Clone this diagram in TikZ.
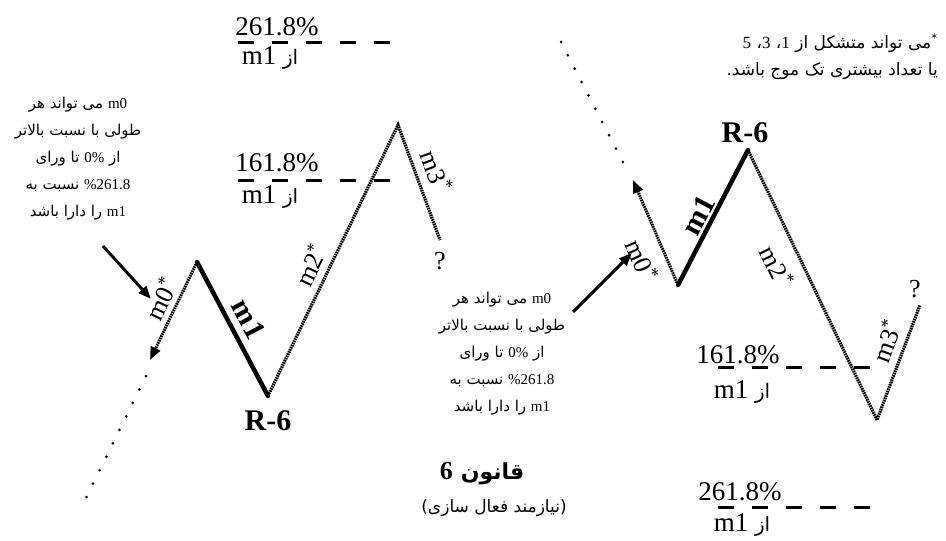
\documentclass[tikz,border=0pt]{standalone}
\usepackage{fontspec}
\setmainfont{Liberation Serif}
\newfontfamily\fa[Script=Arabic]{DejaVu Sans}
\TeXXeTstate=1
\usetikzlibrary{arrows.meta}

\begin{document}
\begin{tikzpicture}[x=1pt, y=-1pt,
  waveline/.style={line width=4.5pt, line cap=round},
  wavedot/.style={line width=3.2pt, dash pattern=on 1.6pt off 0.8pt},
  trail/.style={line width=3pt, line cap=round, dash pattern=on 0pt off 15pt},
  lvldash/.style={line width=3pt, dash pattern=on 16pt off 18pt},
  pointer/.style={-{Triangle[length=13pt,width=10pt]}, line width=3pt},
  lvl/.style={font=\fontsize{27}{30}\selectfont, inner sep=0pt},
  wlabel/.style={font=\fontsize{26}{28}\selectfont, inner sep=0pt},
  blabel/.style={font=\bfseries\fontsize{30}{32}\selectfont, inner sep=0pt},
  note/.style={align=center, font=\fa\fontsize{15}{27}\selectfont, inner sep=0pt}
]
\useasboundingbox (0,0) rectangle (946,541);

% --- Left wave ---
\coordinate (lTrail)    at (85,500);
\coordinate (lTrailTop) at (146,376);
\coordinate (lTip)      at (150,360);
\coordinate (lTop)      at (197,262);
\coordinate (lLow)      at (268,396);
\coordinate (lPeak)     at (398,125);
\coordinate (lEnd)      at (440,240);

\draw[trail] (lTrailTop) -- (lTrail);
\draw[wavedot, pointer] (lTop) -- (lTip);
\draw[waveline] (lTop) -- (lLow);
\draw[wavedot] (lLow) -- (lPeak) -- (lEnd);

\node[wlabel, rotate=64]  (lM0) at (161,299) {m0\textsuperscript{*}};
\node[blabel, rotate=-62] (lM1) at (249,319) {m1};
\node[wlabel, rotate=64]  (lM2) at (310,265) {m2\textsuperscript{*}};
\node[wlabel, rotate=-70] (lM3) at (437,171) {m3\textsuperscript{*}};
\node[wlabel] (lQ) at (440,261) {?};
\node[blabel] (lR6) at (268,421) {R-6};

% --- Left levels ---
\draw[lvldash] (238,42) coordinate (lA1) -- (392,42) coordinate (lA2);
\node[lvl] (lLvlA) at (277,27) {261.8\%};
\node[lvl] (lLvlAm) at (270,58) {\beginR{\fa\fontsize{20}{20}\selectfont از} m1\endR};
\draw[lvldash] (238,180) coordinate (lB1) -- (392,180) coordinate (lB2);
\node[lvl] (lLvlB) at (277,163) {161.8\%};
\node[lvl] (lLvlBm) at (270,197) {\beginR{\fa\fontsize{20}{20}\selectfont از} m1\endR};

% --- Left note ---
\node[note] (noteL) at (78,159) {\beginR{\rmfamily\beginL m0\endL} می تواند هر\endR\\
  \beginR طولی با نسبت بالاتر\endR\\
  \beginR از {\rmfamily\beginL 0\%\endL} تا ورای\endR\\
  \beginR{\rmfamily\beginL \%261.8\endL} نسبت به\endR\\
  \beginR{\rmfamily\beginL m1\endL} را دارا باشد\endR};
\coordinate (noteLTip) at (151,299);
\draw[pointer] (103,246) coordinate (noteLTail) -- (noteLTip);

% --- Right wave ---
\coordinate (rTrail)    at (561,42);
\coordinate (rTrailEnd) at (628,172);
\coordinate (rTip)      at (633,180);
\coordinate (rLow)      at (678,285);
\coordinate (rPeak)     at (748,150);
\coordinate (rBot)      at (877,420);
\coordinate (rEnd)      at (920,305);

\draw[trail] (rTrail) -- (rTrailEnd);
\draw[wavedot, pointer] (rLow) -- (rTip);
\draw[waveline] (rLow) -- (rPeak);
\draw[wavedot] (rPeak) -- (rBot) -- (rEnd);

\node[wlabel, rotate=-67] (rM0) at (642,260) {m0\textsuperscript{*}};
\node[blabel, rotate=62]  (rM1) at (698,215) {m1};
\node[wlabel, rotate=-64] (rM2) at (777,266) {m2\textsuperscript{*}};
\node[wlabel, rotate=70]  (rM3) at (886,341) {m3\textsuperscript{*}};
\node[wlabel] (rQ) at (915,289) {?};
\node[blabel] (rR6) at (745,133) {R-6};

% --- Right levels ---
\draw[lvldash] (718,367) coordinate (rA1) -- (872,367) coordinate (rA2);
\node[lvl] (rLvlA) at (738,355) {161.8\%};
\node[lvl] (rLvlAm) at (742,392) {\beginR{\fa\fontsize{20}{20}\selectfont از} m1\endR};
\draw[lvldash] (718,507) coordinate (rB1) -- (872,507) coordinate (rB2);
\node[lvl] (rLvlB) at (740,492) {261.8\%};
\node[lvl] (rLvlBm) at (742,525) {\beginR{\fa\fontsize{20}{20}\selectfont از} m1\endR};

% --- Middle note ---
\node[note] (noteM) at (502,354) {\beginR{\rmfamily\beginL m0\endL} می تواند هر\endR\\
  \beginR طولی با نسبت بالاتر\endR\\
  \beginR از {\rmfamily\beginL 0\%\endL} تا ورای\endR\\
  \beginR{\rmfamily\beginL \%261.8\endL} نسبت به\endR\\
  \beginR{\rmfamily\beginL m1\endL} را دارا باشد\endR};
\coordinate (noteMTip) at (632,253);
\draw[pointer] (573,312) coordinate (noteMTail) -- (noteMTip);

% --- Top right note ---
\node[note, align=right, anchor=east, font=\fa\fontsize{17}{27}\selectfont] (noteR) at (938,57)
  {\beginR\textsuperscript{*}می تواند متشکل از {\rmfamily 1}، {\rmfamily 3}، {\rmfamily 5}\endR\\
   \beginR یا تعداد بیشتری تک موج باشد.\endR};

% --- Title ---
\node[inner sep=0pt] (title) at (482,474)
  {\beginR{\fa\bfseries\fontsize{22}{24}\selectfont قانون}\hspace{8pt}{\bfseries\fontsize{26}{28}\selectfont 6}\endR};
\node[inner sep=0pt, font=\fa\fontsize{17}{20}\selectfont] (subtitle) at (494,508)
  {\beginR(نیازمند فعال سازی)\endR};

\end{tikzpicture}
\end{document}
